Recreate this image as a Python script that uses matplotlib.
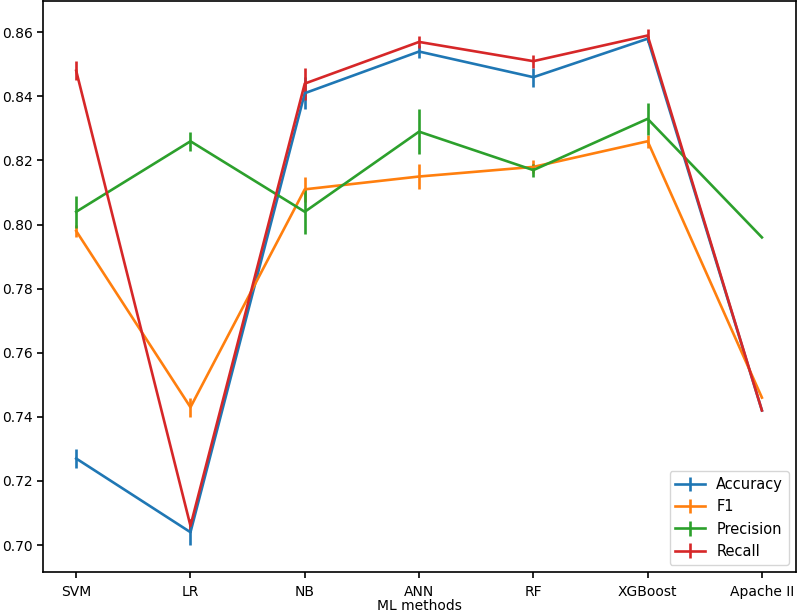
import matplotlib
matplotlib.use('Agg')
import matplotlib.pyplot as plt

metodos = ['SVM', 'LR', 'NB', 'ANN', 'RF', 'XGBoost', 'Apache II']

accuracy = [0.727, 0.704, 0.841, 0.854, 0.846, 0.858, 0.742]
accuracy_err = [0.003, 0.004, 0.005, 0.002, 0.003, 0.001, 0.0]

f1 = [0.798, 0.743, 0.811, 0.815, 0.818, 0.826, 0.746]
f1_err = [0.002, 0.003, 0.004, 0.004, 0.002, 0.002, 0.0]

precision = [0.804, 0.826, 0.804, 0.829, 0.817, 0.833, 0.796]
precision_err = [0.005, 0.003, 0.007, 0.007, 0.002, 0.005, 0.0]

recall = [0.848, 0.706, 0.844, 0.857, 0.851, 0.859, 0.742]
recall_err = [0.003, 0.002, 0.005, 0.002, 0.002, 0.002, 0.0]

fig = plt.figure(figsize=(7.97, 6.15), dpi=100)
ax = fig.add_axes([0.054, 0.070, 0.945, 0.928])

x = range(len(metodos))
ax.errorbar(x, accuracy, yerr=accuracy_err, label='Accuracy', color='#1f77b4', lw=1.9)
ax.errorbar(x, f1, yerr=f1_err, label='F1', color='#ff7f0e', lw=1.9)
ax.errorbar(x, precision, yerr=precision_err, label='Precision', color='#2ca02c', lw=1.9)
ax.errorbar(x, recall, yerr=recall_err, label='Recall', color='#d62728', lw=1.9)

ax.set_xticks(list(x))
ax.set_xticklabels(metodos, fontsize=10)
ax.set_yticks([0.70, 0.72, 0.74, 0.76, 0.78, 0.80, 0.82, 0.84, 0.86])
ax.set_yticklabels(['0.70', '0.72', '0.74', '0.76', '0.78', '0.80', '0.82', '0.84', '0.86'], fontsize=10)
ax.set_xlim(-0.29, 6.3)
ax.set_ylim(0.6916, 0.8697)
ax.set_xlabel('ML methods', fontsize=10, labelpad=0)
for s in ax.spines.values():
    s.set_linewidth(1.2)
ax.tick_params(width=1.2, length=4.5, pad=3)
ax.tick_params(axis='x', pad=5)
ax.legend(loc='lower right', fontsize=10.5)

plt.savefig('out.png')
